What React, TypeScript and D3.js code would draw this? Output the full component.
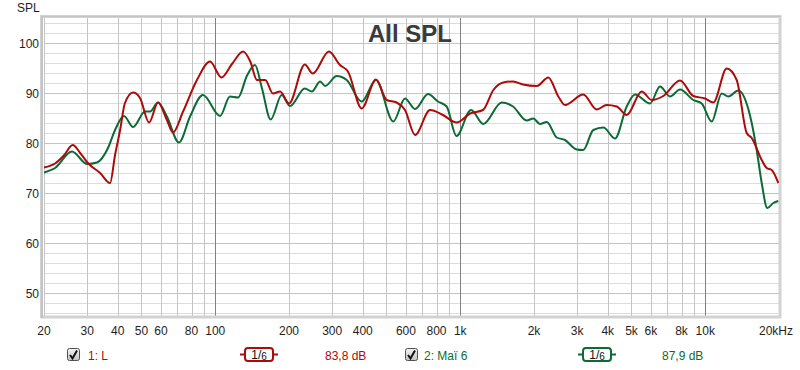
import { useEffect, useRef } from 'react';
import * as d3 from 'd3';

// 1: L
const freqL = [20, 22.2, 24.1, 26.2, 28.1, 30.2, 33.9, 37.2, 39, 40.9, 42.8, 46.2, 49.3, 53.7, 58.4, 63.5, 67.2, 73.9, 84.2, 95.2, 106, 117, 130, 139, 148, 160, 172, 184, 200, 232, 250, 291, 323, 348, 396, 453, 501, 550, 595, 654, 753, 850, 967, 1096, 1238, 1365, 1499, 1642, 1804, 2052, 2288, 2514, 2676, 3178, 3606, 3962, 4352, 4780, 5504, 6046, 6744, 7888, 8940, 9978, 10788, 12234, 13438, 14766, 15476, 17000, 17818, 18674, 19868];
const splL = [75.1, 75.9, 77.5, 79.6, 78.0, 76.0, 74.0, 72.0, 77.6, 82.6, 88.0, 90.1, 89.0, 84.1, 88.1, 84.6, 82.1, 86.3, 92.6, 96.3, 93.1, 95.8, 98.3, 96.3, 92.6, 92.6, 89.9, 90.3, 87.9, 95.7, 93.9, 98.3, 95.6, 94.3, 86.9, 92.7, 88.6, 88.1, 86.6, 81.6, 86.6, 85.6, 84.1, 85.9, 86.6, 90.6, 92.1, 92.3, 91.7, 91.4, 93.1, 89.3, 87.6, 89.7, 86.7, 87.6, 87.3, 85.6, 90.3, 88.6, 89.4, 92.5, 89.4, 88.9, 88.1, 94.9, 92.6, 82, 81, 76.6, 75, 74.6, 72];

// 2: Maï 6
const freqM = [20, 22.2, 26, 30, 32.9, 36.5, 39, 42.4, 46.2, 51.7, 54.2, 58.4, 63.5, 71.1, 78.9, 89.1, 104.6, 114.8, 123.9, 134.8, 145.3, 155, 168.4, 186.7, 202, 232, 248, 268, 281, 313, 344, 396, 453, 533, 595, 654, 739, 811, 880, 965, 1107, 1242, 1476, 1642, 1867, 1987, 2116, 2254, 2476, 2676, 2988, 3178, 3492, 3838, 4282, 4780, 5168, 5952, 6538, 7182, 7888, 8940, 9672, 10626, 11672, 12420, 13646, 14946, 15476, 16218, 17000, 17918, 18956, 19868];
const splM = [74.1, 75, 78.3, 75.8, 76.1, 79, 82.6, 85.4, 83.2, 86.3, 86.3, 88.1, 85.3, 80.1, 85.3, 89.6, 85.4, 89.3, 89.1, 93.5, 95.6, 91, 84.7, 89.6, 87.4, 90.9, 90.3, 92.3, 91.4, 93.4, 92.6, 88.3, 92.6, 84.3, 88.9, 86.8, 89.8, 88.3, 87.3, 81.4, 86.6, 83.8, 88.1, 87.3, 84.5, 84.9, 83.8, 84.2, 81.1, 80.6, 78.7, 78.6, 82.6, 83.1, 80.9, 87.3, 89.7, 87.9, 91.3, 89.3, 90.7, 88.6, 87.9, 84.3, 89.9, 89.3, 90.5, 87, 84, 78.6, 72, 67, 68, 68.4];

const xTicks = [20, 30, 40, 50, 60, 80, 100, 200, 300, 400, 600, 800, 1000, 2000, 3000, 4000, 5000, 6000, 8000, 10000, 20000];
const xTickLabels = ['20', '30', '40', '50', '60', '80', '100', '200', '300', '400', '600', '800', '1k', '2k', '3k', '4k', '5k', '6k', '8k', '10k', '20kHz'];
const yTicks = [50, 60, 70, 80, 90, 100];

const seriesNames = ['1: L', '2: Maï 6'];
const seriesLevels = ['83,8 dB', '87,9 dB'];
const seriesColors = ['#ad0a0a', '#0b6b36'];

const W = 800;
const H = 370;
const FONT = '"Liberation Sans", Arial, sans-serif';

export default function App() {
  const svgRef = useRef(null);

  useEffect(() => {
    const svg = d3.select(svgRef.current);
    svg.selectAll('*').remove();

    const x = d3.scaleLog().domain([20, 20000]).range([44, 779]);
    const y = d3.scaleLinear().domain([45, 105]).range([318, 18]);
    const top = 18, bottom = 316, left = 44, right = 779;

    svg.append('rect').attr('width', W).attr('height', H).attr('fill', '#fff');

    const defs = svg.append('defs');
    defs.append('clipPath').attr('id', 'plot-clip')
      .append('rect').attr('x', left).attr('y', top).attr('width', right - left).attr('height', bottom - top);
    const grad = defs.append('linearGradient').attr('id', 'cb-grad')
      .attr('x1', 0).attr('y1', 0).attr('x2', 0).attr('y2', 1);
    grad.append('stop').attr('offset', '0%').attr('stop-color', '#f4f4f4');
    grad.append('stop').attr('offset', '100%').attr('stop-color', '#c4c4c4');

    // grid
    const grid = svg.append('g').attr('clip-path', 'url(#plot-clip)');
    const hLines = d3.range(46, 105, 2);
    grid.selectAll('.h').data(hLines).join('line')
      .attr('x1', left).attr('x2', right)
      .attr('y1', (d) => y(d) + 0.5).attr('y2', (d) => y(d) + 0.5)
      .attr('stroke', (d) => (d % 10 === 0 ? '#c4c4c4' : '#dcdcdc'))
      .attr('stroke-width', 1);

    const vLines = [];
    for (const dec of [10, 100, 1000]) {
      for (let m = dec === 10 ? 2 : 1; m <= 9; m++) vLines.push(m * dec);
    }
    vLines.push(10000);
    grid.selectAll('.v').data(vLines).join('line')
      .attr('x1', (d) => Math.round(x(d)) + 0.5).attr('x2', (d) => Math.round(x(d)) + 0.5)
      .attr('y1', top).attr('y2', bottom)
      .attr('stroke', (d) => ([100, 1000, 10000].includes(d) ? '#808080' : '#c4c4c4'))
      .attr('stroke-width', 1);

    // frame
    svg.append('rect')
      .attr('x', 41.5).attr('y', 16.5).attr('width', right - 41.5 + 1).attr('height', bottom - 16.5 + 1)
      .attr('fill', 'none').attr('stroke', '#d2d2d2').attr('stroke-width', 3);
    svg.append('line').attr('x1', 42).attr('x2', 42).attr('y1', 16).attr('y2', bottom + 2)
      .attr('stroke', '#b4b4b4').attr('stroke-width', 1);
    svg.append('line').attr('x1', 41).attr('x2', right + 2).attr('y1', 16.5).attr('y2', 16.5)
      .attr('stroke', '#c4c4c4').attr('stroke-width', 1);

    // title
    svg.append('text')
      .attr('x', 410).attr('y', 42)
      .attr('text-anchor', 'middle')
      .attr('font-family', FONT).attr('font-weight', 'bold').attr('font-size', 24)
      .attr('fill', '#3a3a3a')
      .text('All SPL');

    // curves
    const line = d3.line()
      .x((d) => x(d[0]))
      .y((d) => y(d[1]))
      .curve(d3.curveMonotoneX);

    const curves = svg.append('g').attr('clip-path', 'url(#plot-clip)');
    const series = [
      d3.zip(freqM, splM),
      d3.zip(freqL, splL),
    ];
    const seriesCol = [seriesColors[1], seriesColors[0]];
    series.forEach((data, i) => {
      curves.append('path')
        .datum(data)
        .attr('fill', 'none')
        .attr('stroke', seriesCol[i])
        .attr('stroke-width', 2)
        .attr('stroke-linejoin', 'round')
        .attr('d', line);
    });

    // axes labels
    const axisText = svg.append('g')
      .attr('font-family', FONT).attr('font-size', 12).attr('fill', '#1e1e1e');
    axisText.selectAll('.xt').data(xTicks).join('text')
      .attr('x', (d) => x(d) + (d === 20000 ? -3 : 0))
      .attr('y', 335)
      .attr('text-anchor', 'middle')
      .text((d, i) => xTickLabels[i]);
    axisText.selectAll('.yt').data(yTicks).join('text')
      .attr('x', 39)
      .attr('y', (d) => y(d) + 4.5)
      .attr('text-anchor', 'end')
      .text((d) => d);
    axisText.append('text').attr('x', 17).attr('y', 12).text('SPL');

    // legend
    const legendPos = [
      { cb: 67, label: 88, box: 259, level: 325 },
      { cb: 405, label: 424, box: 597, level: 662 },
    ];
    legendPos.forEach((p, i) => {
      const g = svg.append('g').attr('font-family', FONT).attr('font-size', 12);
      g.append('rect')
        .attr('x', p.cb + 0.5).attr('y', 348.5).attr('width', 12).attr('height', 12).attr('rx', 2)
        .attr('fill', 'url(#cb-grad)').attr('stroke', '#505050');
      g.append('path')
        .attr('d', `M${p.cb + 3},${355} L${p.cb + 5.5},${358.5} L${p.cb + 10},${350.5}`)
        .attr('fill', 'none').attr('stroke', '#111').attr('stroke-width', 2);
      g.append('text')
        .attr('x', p.label).attr('y', 359.5)
        .attr('fill', seriesColors[i])
        .text(seriesNames[i]);

      g.append('line')
        .attr('x1', p.box - 19).attr('x2', p.box + 19).attr('y1', 354.5).attr('y2', 354.5)
        .attr('stroke', seriesColors[i]).attr('stroke-width', 2);
      g.append('rect')
        .attr('x', p.box - 14).attr('y', 348).attr('width', 28).attr('height', 13).attr('rx', 3)
        .attr('fill', '#fff').attr('stroke', seriesColors[i]).attr('stroke-width', 2);
      const t = g.append('text')
        .attr('x', p.box).attr('y', 358.5).attr('text-anchor', 'middle').attr('fill', '#111');
      t.append('tspan').text('1');
      t.append('tspan').text('/');
      t.append('tspan').attr('font-size', 10).attr('dy', 1.5).text('6');

      g.append('text')
        .attr('x', p.level).attr('y', 359.5)
        .attr('fill', seriesColors[i])
        .text(seriesLevels[i]);
    });
  }, []);

  return (
    <svg
      ref={svgRef}
      width={W}
      height={H}
      style={{ position: 'absolute', left: 0, top: 0, display: 'block' }}
    />
  );
}
